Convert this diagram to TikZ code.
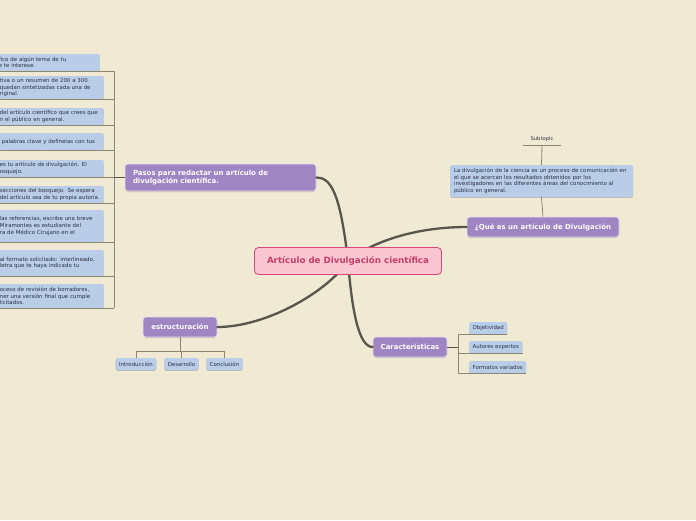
\documentclass[tikz,border=0pt]{standalone}
\usepackage{fontspec}
\setmainfont{DejaVu Sans}
\usetikzlibrary{calc, shadows}
\definecolor{cbg}{HTML}{F0E9D3}
\definecolor{cleaf}{HTML}{B9CDE8}
\definecolor{ctext}{HTML}{2B3040}
\definecolor{cpurple}{HTML}{A085C3}
\definecolor{cpink}{HTML}{FAC6D2}
\definecolor{cpinkd}{HTML}{D9487A}
\definecolor{cpinkt}{HTML}{C73E6C}
\definecolor{cline}{HTML}{56564C}
\definecolor{cbranch}{HTML}{8C8773}
\tikzset{
  every picture/.style={x=1pt, y=1pt},
  leaf/.style={fill=cleaf, rounded corners=2pt, align=left, inner xsep=3pt, inner ysep=2pt, text=ctext,
    font=\fontsize{5.45}{6.6}\selectfont, drop shadow={shadow xshift=0pt, shadow yshift=-0.8pt, opacity=0.35, fill=black!60}},
  tag/.style={leaf, inner xsep=3.5pt, minimum height=12pt, font=\fontsize{5.4}{6}\selectfont},
  hub/.style={fill=cpurple, draw=white!75!cpurple, line width=0.6pt, rounded corners=3pt, text=white,
    font=\bfseries\fontsize{6.95}{8.6}\selectfont, minimum height=20pt,
    drop shadow={shadow xshift=0pt, shadow yshift=-1pt, opacity=0.3, fill=black!60}},
  root/.style={fill=cpink, draw=cpinkd, line width=0.8pt, rounded corners=4pt, text=cpinkt,
    font=\bfseries\fontsize{8.7}{10}\selectfont, minimum width=187pt, minimum height=27pt},
  limb/.style={draw=cline, line width=2.3pt, line cap=round},
  branch/.style={draw=cbranch, line width=0.8pt},
}
\begin{document}
\begin{tikzpicture}
  \useasboundingbox[fill=cbg] (0,0) rectangle (696,-520);
  % main topics
  \node[hub, align=left, text width=175pt, inner xsep=8pt, minimum height=27pt] (pasos) at (220.5,-177.5) {Pasos para redactar un artículo de\\divulgación científica.};
  \node[hub, minimum width=152pt] (que) at (543,-227) {¿Qué es un artículo de Divulgación};
  \node[hub, minimum width=74pt] (car) at (410,-347) {Características};
  \node[hub, minimum width=74pt] (est) at (180,-327) {estructuración};
  % limbs from the centre
  \draw[limb] (348,-261) coordinate (mid)
    .. controls ($(mid)+(-8,70)$) and ($(pasos.east)+(14,0)$) .. (pasos.east);
  \draw[limb] (mid) .. controls ($(mid)+(25,20)$) and ($(que.west)+(-50,0)$) .. (que.west);
  \draw[limb] (mid) .. controls ($(mid)+(4,-50)$) and ($(car.west)+(-14,0)$) .. (car.west);
  \draw[limb] (mid) .. controls ($(mid)+(-20,-30)$) and ($(est.east)+(50,0)$) .. (est.east);
  \node[root] (centro) at (mid) {Artículo de Divulgación científica};
  % steps, cut at the left edge
  \node[leaf, text width=98pt, minimum height=17pt, anchor=east] (s1) at (100,-62.5) {fico de algún tema de tu\\e te interese.};
  \node[leaf, text width=101pt, minimum height=23pt, anchor=east] (s2) at (104,-87.5) {tiva o un resumen de 200 a 300\\quedan sintetizadas cada una de\\riginal.};
  \node[leaf, text width=101pt, minimum height=17pt, anchor=east] (s3) at (104,-116.5) {del artículo científico que crees que\\n el público en general.};
  \node[leaf, text width=99pt, minimum height=17pt, anchor=east] (s4) at (104,-141.5) {palabras clave y defínelas con tus};
  \node[leaf, text width=101pt, minimum height=17pt, anchor=east] (s5) at (104,-168.5) {es tu artículo de divulgación. El\\osquejo.};
  \node[leaf, text width=101pt, minimum height=17pt, anchor=east] (s6) at (104,-194.5) {secciones del bosquejo. Se espera\\del artículo sea de tu propia autoría.};
  \node[leaf, text width=101pt, minimum height=32pt, anchor=east] (s7) at (104,-226) {las referencias, escribe una breve\\Miramontes es estudiante del\\ra de Médico Cirujano en el};
  \node[leaf, text width=101pt, minimum height=26pt, anchor=east] (s8) at (104,-263) {al formato solicitado: interlineado,\\letra que te haya indicado tu};
  \node[leaf, text width=101pt, minimum height=24pt, anchor=east] (s9) at (104,-296) {oceso de revisión de borradores,\\ner una versión final que cumple\\licitados.};
  \coordinate (spine) at (114,-178);
  \foreach \n in {s1,s2,s3,s4,s5,s6,s7,s8,s9}
    \draw[branch] (\n.south west) -- (\n.south -| spine);
  \draw[branch] (s1.south -| spine) -- (s9.south -| spine);
  \draw[branch, draw=cline] (pasos.west -| spine) -- (pasos.west);
  % what it is
  \node[leaf, text width=175pt, inner xsep=4pt, minimum height=32pt] (def) at (541.5,-181) {La divulgación de la ciencia es un proceso de comunicación en\\el que se acercan los resultados obtenidos por los\\investigadores en las diferentes áreas del conocimiento al\\público en general.};
  \node[font=\fontsize{5.2}{6}\selectfont, text=ctext] (sub) at (542,-139) {Subtopic};
  \draw[branch] ([xshift=-4pt]sub.south west) -- ([xshift=4pt]sub.south east);
  \draw[branch] (sub.south) -- (def.north);
  \draw[branch] (def.south) -- (que.north);
  % features
  \node[tag, anchor=west] (c1) at (469,-328) {Objetividad};
  \node[tag, anchor=west] (c2) at (469,-347) {Autores expertos};
  \node[tag, anchor=west] (c3) at (469,-367) {Formatos variados};
  \coordinate (fork) at (458,-347);
  \draw[branch, draw=cline] (car.east) -- (fork);
  \draw[branch] (c1.south -| fork) -- (c3.south -| fork);
  \foreach \n in {c1,c2,c3}
    \draw[branch] (\n.south -| fork) -- (\n.south east);
  % structure
  \node[tag] (e1) at (136,-364) {Introducción};
  \node[tag] (e2) at (181.5,-364) {Desarrollo};
  \node[tag] (e3) at (224.5,-364) {Conclusión};
  \draw[branch] (est.south) -- ++(0,-14) coordinate (bar);
  \draw[branch] (e1.north |- bar) -- (e3.north |- bar);
  \foreach \n in {e1,e2,e3}
    \draw[branch] (\n.north |- bar) -- (\n.north);
\end{tikzpicture}
\end{document}
